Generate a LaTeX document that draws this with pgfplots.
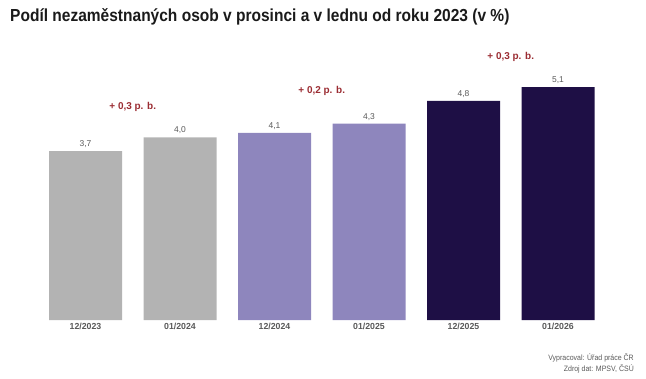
\documentclass[border=0pt]{standalone}
\usepackage{pgfplots}
\pgfplotsset{compat=1.18}
\usepackage{graphicx}
\usepackage{fontspec}
\setmainfont{Liberation Sans}
\definecolor{cgray}{HTML}{B3B3B3}
\definecolor{clav}{HTML}{8E86BD}
\definecolor{cdark}{HTML}{1E0F45}
\definecolor{cred}{HTML}{9B2D33}
\definecolor{ctxt}{HTML}{595959}
\definecolor{ctitle}{HTML}{1A1A1A}
\begin{document}
\begin{tikzpicture}[x=1bp,y=1bp]
\path[use as bounding box] (0,0) rectangle (646,378);
\begin{axis}[
 at={(38.25bp,58bp)}, anchor=south west,
 scale only axis, width=567bp, height=274bp,
 xmin=-0.5, xmax=5.5, ymin=0, ymax=6,
 axis y line=none, axis x line*=bottom,
 x axis line style={draw=none},
 xtick={0,...,5},
 xticklabels={12/2023,01/2024,12/2024,01/2025,12/2025,01/2026},
 major tick length=0pt,
 xticklabel style={font=\fontsize{8.8}{10}\selectfont\bfseries, text=ctxt},
 ybar, bar width=73bp,
 nodes near coords,
 every node near coord/.append style={font=\fontsize{8.5}{9}\selectfont, text=ctxt},
 /pgf/number format/.cd, use comma, fixed, fixed zerofill, precision=1, assume math mode=true,
]
\addplot[fill=cgray, draw=none, bar shift=0pt] coordinates {(0,3.7) (1,4.0)};
\addplot[fill=clav, draw=none, bar shift=0pt] coordinates {(2,4.1) (3,4.3)};
\addplot[fill=cdark, draw=none, bar shift=0pt] coordinates {(4,4.8) (5,5.1)};
\node[text=cred, font=\bfseries\fontsize{10}{12}\selectfont] at (axis cs:0.5,4.66) {+ 0,3 p. b.};
\node[text=cred, font=\bfseries\fontsize{10}{12}\selectfont] at (axis cs:2.5,5.01) {+ 0,2 p. b.};
\node[text=cred, font=\bfseries\fontsize{10}{12}\selectfont] at (axis cs:4.5,5.75) {+ 0,3 p. b.};
\end{axis}
\node[anchor=west, inner sep=0pt, text=ctitle, font=\bfseries\fontsize{17.5}{20}\selectfont] at (10,361) {\scalebox{0.89}[1]{Podíl nezaměstnaných osob v prosinci a v lednu od roku 2023 (v \%)}};
\node[anchor=east, inner sep=0pt, text=ctxt, font=\fontsize{7.8}{8}\selectfont] at (634,20) {\scalebox{0.9}[1]{Vypracoval: Úřad práce ČR}};
\node[anchor=east, inner sep=0pt, text=ctxt, font=\fontsize{7.8}{8}\selectfont] at (634,9.5) {\scalebox{0.9}[1]{Zdroj dat: MPSV, ČSÚ}};
\end{tikzpicture}
\end{document}
